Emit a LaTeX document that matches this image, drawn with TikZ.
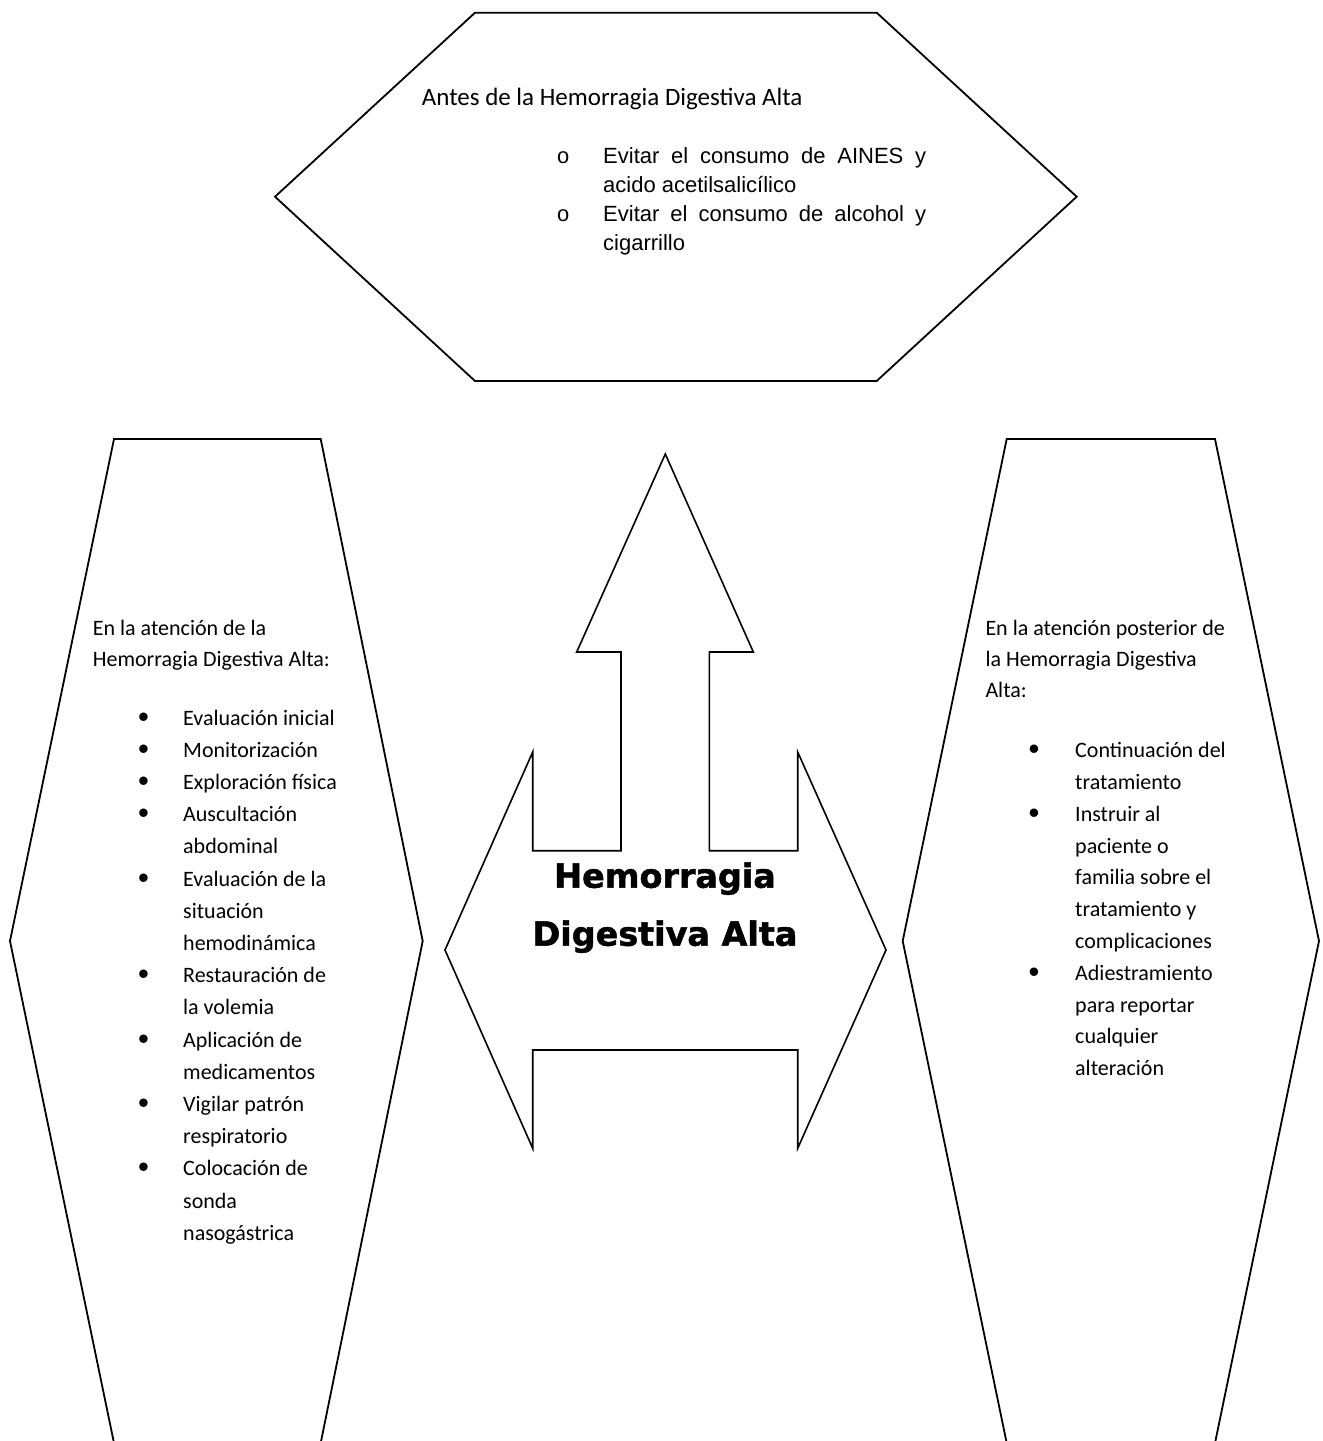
\documentclass[tikz,border=0pt]{standalone}
\usepackage{fontspec}
\newfontfamily\calfont{Carlito}
\newfontfamily\arialfont{Liberation Sans}
\newfontfamily\couriernf{Liberation Mono}
\newfontfamily\heavyfont[RawFeature={embolden=1.5}]{DejaVu Sans Bold}
\begin{document}
\begin{tikzpicture}[x=1pt,y=-1pt,
  outline/.style={draw=black,line width=1.8pt,line join=miter},
  arrowshape/.style={draw=black,line width=1.6pt,line join=miter},
  cal/.style={font=\fontsize{22}{32}\calfont,anchor=base west,inner sep=0pt},
  calbig/.style={font=\fontsize{25}{32}\calfont,anchor=base west,inner sep=0pt},
  ari/.style={font=\fontsize{22}{29}\arialfont,anchor=base west,inner sep=0pt},
  bul/.style={font=\fontsize{31}{29}\arialfont,anchor=base,inner sep=0pt},
  bulo/.style={font=\fontsize{22}{29}\couriernf,anchor=base,inner sep=0pt},
  titlefont/.style={font=\fontsize{33.4}{58}\heavyfont,anchor=base,inner sep=0pt}]
\useasboundingbox (0,0) rectangle (1323,1441);
\fill[white] (0,0) rectangle (1323,1441);
\clip (0,0) rectangle (1323,1441);

% top hexagon
\draw[outline] (475,12.7) -- (876.7,12.7) -- (1076.7,196.7) -- (876.7,381) -- (475,381) -- (275,196.7) -- cycle;
% left hexagon
\draw[outline] (114,439) -- (320.7,439) -- (422.7,941) -- (320.7,1443) -- (114,1443) -- (10,941) -- cycle;
% right hexagon
\draw[outline] (1006.7,439) -- (1215,439) -- (1319,941) -- (1215,1443) -- (1006.7,1443) -- (902.7,941) -- cycle;
% central three-way arrow
\draw[arrowshape] (665.3,454) -- (753.3,652) -- (709.3,652) -- (709.3,850.7) -- (797.7,850.7) -- (797.7,752)
  -- (886,950) -- (797.7,1148.3) -- (797.7,1050) -- (532.7,1050) -- (532.7,1148.3) -- (445,950)
  -- (532.7,752) -- (532.7,850.7) -- (621,850.7) -- (621,652) -- (576.7,652) -- cycle;

% central title
\node[titlefont] (c1) at (665,887.7) {Hemorragia};
\node[titlefont] (c2) at (665,945.7) {Digestiva Alta};

% top text
\node[calbig] (t0) at (421.7,105.5) {Antes de la Hemorragia Digestiva Alta};
\node[bulo] (tb1) at (563.3,163) {o};
\node[ari] (t1) at (603,163) {\hbox to 323pt{Evitar\hfill el\hfill consumo\hfill de\hfill AINES\hfill y}};
\node[ari] (t2) at (603,192.2) {acido acetilsalicílico};
\node[bulo] (tb2) at (563.3,221.5) {o};
\node[ari] (t3) at (603,221.5) {\hbox to 323pt{Evitar\hfill el\hfill consumo\hfill de\hfill alcohol\hfill y}};
\node[ari] (t4) at (603,250.5) {cigarrillo};

% left text
\node[cal] (lh1) at (92.7,635) {En la atención de la};
\node[cal] (lh2) at (92.7,666) {Hemorragia Digestiva Alta:};
\foreach \txt [count=\k from 0] in {Evaluación inicial,Monitorización,Exploración física,Auscultación,abdominal,Evaluación de la,situación,hemodinámica,Restauración de,la volemia,Aplicación de,medicamentos,Vigilar patrón,respiratorio,Colocación de,sonda,nasogástrica}
  \node[cal] (l\k) at ({183},{725+32.2*\k}) {\txt};
\foreach \k in {0,1,2,3,5,8,10,12,14}
  \node[bul] (lb\k) at ({143.5},{727+32.2*\k}) {•};

% right text
\node[cal] (rh1) at (985.3,635) {En la atención posterior de};
\node[cal] (rh2) at (985.3,666) {la Hemorragia Digestiva};
\node[cal] (rh3) at (985.3,697) {Alta:};
\foreach \txt [count=\k from 0] in {Continuación del,tratamiento,Instruir al,paciente o,familia sobre el,tratamiento y,complicaciones,Adiestramiento,para reportar,cualquier,alteración}
  \node[cal] (r\k) at ({1075},{757.7+31.8*\k}) {\txt};
\foreach \k in {0,2,7}
  \node[bul] (rb\k) at ({1034},{759.7+31.8*\k}) {•};
\end{tikzpicture}
\end{document}
